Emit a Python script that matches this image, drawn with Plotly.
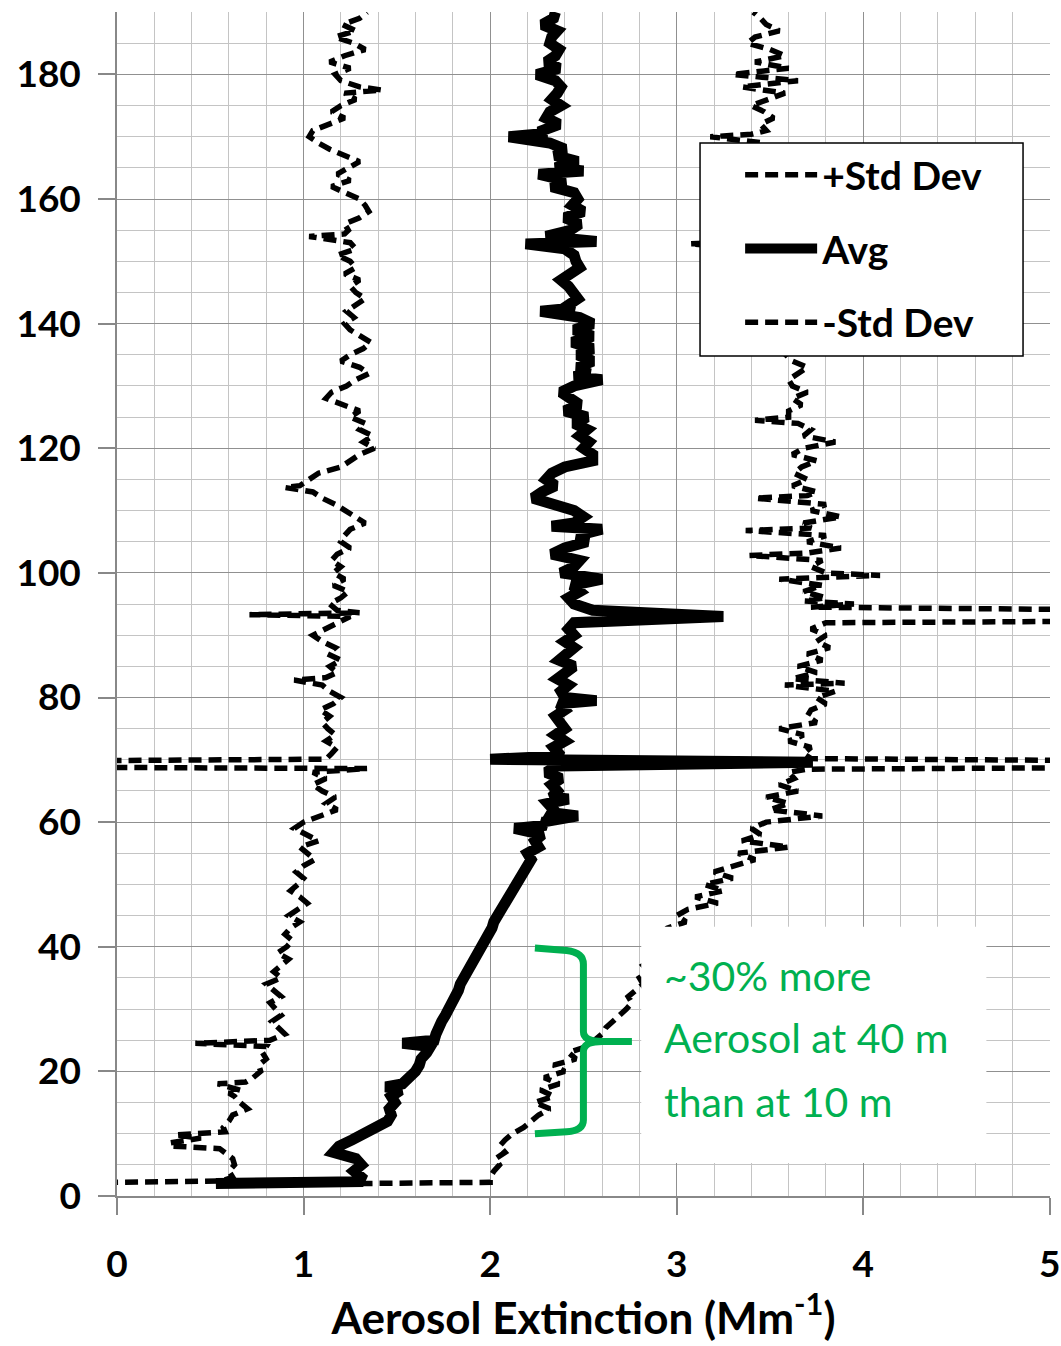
import plotly.graph_objects as go

# Vertical profiles of aerosol extinction: (altitude m, extinction Mm^-1)
PLUS_STD = [
    (2.0, 1.30), (2.2, 2.00), (3, 2.00), (4, 2.02), (5, 2.05), (6, 2.03), (7, 2.08), (8, 2.05),
    (9, 2.08), (10, 2.12), (11, 2.18), (12, 2.22), (13, 2.26), (14, 2.32), (15, 2.24), (16, 2.34),
    (17, 2.27), (18, 2.37), (19, 2.29), (20, 2.40), (21, 2.34), (22, 2.46), (23, 2.42), (24, 2.52),
    (25, 2.56), (26, 2.60), (27, 2.62), (28, 2.66), (29, 2.70), (30, 2.73), (31, 2.76), (32, 2.74),
    (33, 2.78), (34, 2.82), (35, 2.80), (36, 2.85), (37, 2.82), (38, 2.88), (39, 2.85), (40, 2.90),
    (41, 2.88), (42, 2.92), (43, 2.95), (44, 3.05), (45, 3.00), (46, 3.06), (47, 3.22), (48, 3.10),
    (49, 3.25), (50, 3.15), (51, 3.30), (52, 3.20), (53, 3.30), (54, 3.42), (55, 3.33), (56, 3.60),
    (57, 3.35), (58, 3.45), (59, 3.40), (60, 3.48), (61, 3.78), (62, 3.50), (63, 3.60), (64, 3.48),
    (65, 3.65), (66, 3.55), (67, 3.63), (68, 3.60), (68.5, 3.70), (68.8, 5.6), (69.8, 5.6), (70.2, 3.72),
    (71, 3.68), (72, 3.72), (73, 3.60), (74, 3.68), (75, 3.55), (76, 3.75), (77, 3.70), (78, 3.72),
    (79, 3.80), (80, 3.75), (81, 3.85), (82, 3.58), (82.3, 3.90), (83, 3.62), (84, 3.75), (85, 3.65),
    (86, 3.78), (87, 3.70), (88, 3.82), (89, 3.75), (90, 3.80), (91, 3.72), (92, 3.80), (92.3, 5.6),
    (94.0, 5.6), (94.5, 3.72), (95, 3.95), (95.5, 3.68), (96, 3.80), (97, 3.68), (98, 3.78), (99, 3.55),
    (99.6, 4.09), (100, 3.80), (101, 3.72), (102, 3.78), (102.8, 3.39), (103.2, 3.70), (104, 3.88),
    (105, 3.70), (106, 3.80), (106.8, 3.37), (107.2, 3.72), (108, 3.68), (109, 3.88), (110, 3.72),
    (111, 3.80), (112, 3.42), (112.4, 3.70), (113, 3.75), (114, 3.62), (115, 3.70), (116, 3.63),
    (117, 3.67), (118, 3.75), (119, 3.62), (120, 3.68), (121, 3.85), (122, 3.68), (123, 3.72),
    (124, 3.65), (124.5, 3.42), (125, 3.60), (126, 3.60), (127, 3.67), (128, 3.62), (129, 3.70),
    (130, 3.62), (131, 3.60), (132, 3.65), (133, 3.70), (134, 3.62), (135, 3.58), (136, 3.55),
    (137, 3.60), (138, 3.52), (139, 3.58), (140, 3.55), (141, 3.50), (142, 3.56), (143, 3.52),
    (144, 3.55), (145, 3.48), (146, 3.52), (147, 3.50), (148, 3.55), (149, 3.48), (150, 3.52),
    (151, 3.50), (152, 3.45), (152.8, 3.07), (153.3, 3.48), (154, 3.50), (155, 3.45), (156, 3.50),
    (157, 3.48), (158, 3.52), (159, 3.45), (160, 3.50), (161, 3.46), (162, 3.50), (163, 3.44),
    (164, 3.48), (165, 3.45), (166, 3.50), (167, 3.46), (168, 3.50), (169, 3.47), (170, 3.18),
    (170.4, 3.40), (171, 3.48), (172, 3.45), (173, 3.52), (174, 3.47), (175, 3.40), (176, 3.50),
    (177, 3.58), (178, 3.35), (179, 3.65), (180, 3.30), (181, 3.60), (182, 3.42), (183, 3.58),
    (184, 3.50), (185, 3.38), (186, 3.42), (187, 3.55), (188, 3.48), (189, 3.45), (190, 3.41),
]

AVERAGE = [
    (2.0, 0.53), (2.3, 1.30), (3, 1.31), (4, 1.27), (5, 1.31), (6, 1.28), (7, 1.16), (8, 1.19),
    (9, 1.26), (10, 1.32), (11, 1.40), (12, 1.45), (13, 1.47), (14, 1.46), (15, 1.49), (16, 1.47),
    (17, 1.52), (17.5, 1.44), (18, 1.53), (19, 1.57), (20, 1.60), (21, 1.62), (22, 1.63), (23, 1.66),
    (24, 1.68), (24.5, 1.53), (25, 1.70), (26, 1.71), (27, 1.72), (28, 1.74), (29, 1.76), (30, 1.78),
    (31, 1.79), (32, 1.81), (33, 1.83), (34, 1.84), (35, 1.86), (36, 1.87), (37, 1.90), (38, 1.91),
    (39, 1.93), (40, 1.96), (41, 1.97), (42, 1.99), (43, 2.01), (44, 2.02), (45, 2.04), (46, 2.06),
    (47, 2.07), (48, 2.10), (49, 2.11), (50, 2.13), (51, 2.15), (52, 2.18), (53, 2.19), (54, 2.22),
    (55, 2.20), (56, 2.26), (57, 2.24), (58, 2.28), (59, 2.13), (59.5, 2.30), (60, 2.28), (61, 2.47),
    (61.5, 2.33), (62, 2.34), (63, 2.31), (63.7, 2.42), (64, 2.33), (65, 2.36), (66, 2.33), (67, 2.38),
    (68, 2.30), (69, 2.36), (69.6, 3.73), (70.1, 2.00), (70.6, 2.38), (71, 2.37), (72, 2.34),
    (73, 2.40), (74, 2.35), (75, 2.40), (76, 2.38), (77, 2.35), (78, 2.40), (79, 2.37), (79.5, 2.57),
    (80, 2.40), (81, 2.38), (82, 2.42), (83, 2.36), (84, 2.40), (85, 2.45), (86, 2.37), (87, 2.42),
    (88, 2.45), (89, 2.40), (90, 2.45), (91, 2.42), (92, 2.45), (93, 3.25), (94, 2.55), (95, 2.45),
    (96, 2.42), (97, 2.48), (98, 2.44), (99, 2.60), (99.5, 2.45), (100, 2.38), (101, 2.45),
    (102, 2.48), (103, 2.33), (104, 2.40), (105, 2.52), (106, 2.47), (107, 2.60), (107.5, 2.33),
    (108, 2.45), (109, 2.50), (110, 2.45), (111, 2.35), (112, 2.23), (113, 2.28), (114, 2.35),
    (115, 2.30), (116, 2.33), (117, 2.40), (118, 2.55), (119, 2.55), (120, 2.50), (121, 2.53),
    (122, 2.48), (123, 2.52), (124, 2.45), (125, 2.52), (126, 2.40), (127, 2.48), (128, 2.42),
    (129, 2.38), (130, 2.45), (131, 2.60), (131.5, 2.45), (132, 2.53), (133, 2.47), (134, 2.55),
    (135, 2.47), (136, 2.55), (137, 2.44), (138, 2.55), (139, 2.45), (140, 2.55), (141, 2.48),
    (142, 2.27), (142.5, 2.45), (143, 2.42), (144, 2.47), (145, 2.45), (146, 2.42), (147, 2.38),
    (148, 2.42), (149, 2.48), (150, 2.46), (151, 2.45), (152, 2.40), (152.8, 2.19), (153.2, 2.57),
    (154, 2.30), (155, 2.43), (156, 2.48), (157, 2.40), (158, 2.50), (159, 2.44), (160, 2.47),
    (161, 2.45), (162, 2.33), (163, 2.40), (164, 2.26), (164.5, 2.50), (165, 2.35), (166, 2.47),
    (167, 2.35), (168, 2.40), (169, 2.32), (170, 2.10), (170.5, 2.28), (171, 2.28), (172, 2.37),
    (173, 2.30), (174, 2.32), (175, 2.38), (176, 2.33), (177, 2.36), (178, 2.38), (179, 2.35),
    (180, 2.25), (181, 2.37), (182, 2.30), (183, 2.35), (184, 2.37), (185, 2.32), (186, 2.33),
    (187, 2.36), (188, 2.28), (189, 2.34), (190, 2.35),
]

MINUS_STD = [
    (2.0, -0.6), (2.4, 0.56), (3, 0.62), (4, 0.60), (5, 0.63), (6, 0.62), (7.6, 0.55), (8, 0.30),
    (8.5, 0.28), (9.3, 0.45), (9.8, 0.31), (10.3, 0.58), (11, 0.57), (12, 0.60), (13, 0.62),
    (14, 0.70), (15, 0.66), (16, 0.63), (16.5, 0.60), (17, 0.66), (18, 0.54), (18.3, 0.69),
    (19, 0.73), (20, 0.77), (21, 0.76), (22, 0.80), (23, 0.78), (24, 0.80), (24.5, 0.42), (25, 0.82),
    (26, 0.90), (27, 0.86), (28, 0.83), (29, 0.88), (30, 0.85), (31, 0.82), (32, 0.88), (33, 0.84),
    (34, 0.80), (35, 0.88), (36, 0.84), (37, 0.88), (38, 0.92), (39, 0.86), (40, 0.91), (41, 0.94),
    (42, 0.90), (43, 0.93), (44, 0.98), (45, 0.92), (46, 0.97), (47, 1.02), (48, 0.98), (49, 0.93),
    (50, 0.97), (51, 1.00), (52, 0.96), (53, 1.00), (54, 1.06), (55, 1.02), (56, 0.98), (57, 1.08),
    (58, 1.02), (59, 0.95), (60, 1.00), (61, 1.10), (62, 1.18), (63, 1.12), (64, 1.17), (65, 1.10),
    (66, 1.05), (67, 1.12), (68, 1.05), (68.6, 1.34), (68.9, -1.0), (69.7, -1.0), (70.1, 1.12),
    (71, 1.15), (72, 1.18), (73, 1.12), (74, 1.17), (75, 1.13), (76, 1.10), (77, 1.14), (78, 1.09),
    (79, 1.16), (80, 1.20), (81, 1.14), (82, 1.10), (82.8, 0.95), (83.2, 1.12), (84, 1.18),
    (85, 1.14), (86, 1.20), (87, 1.13), (88, 1.17), (89, 1.10), (90, 1.05), (91, 1.12), (92, 1.18),
    (93, 1.25), (93.3, 0.71), (93.6, 1.30), (94, 1.18), (95, 1.14), (96, 1.20), (97, 1.24),
    (98, 1.16), (99, 1.22), (100, 1.16), (101, 1.20), (102, 1.15), (103, 1.18), (104, 1.25),
    (105, 1.20), (106, 1.22), (107, 1.25), (108, 1.33), (109, 1.28), (110, 1.23), (111, 1.17),
    (112, 1.10), (113, 1.05), (113.7, 0.90), (114, 0.98), (115, 1.03), (116, 1.08), (117, 1.20),
    (118, 1.25), (119, 1.30), (120, 1.38), (121, 1.32), (122, 1.37), (123, 1.30), (124, 1.33),
    (125, 1.25), (126, 1.30), (127, 1.20), (128, 1.12), (129, 1.15), (130, 1.23), (131, 1.28),
    (132, 1.35), (133, 1.30), (134, 1.20), (135, 1.25), (136, 1.32), (137, 1.36), (138, 1.30),
    (139, 1.25), (140, 1.22), (141, 1.27), (142, 1.23), (143, 1.28), (144, 1.33), (145, 1.28),
    (146, 1.25), (147, 1.30), (148, 1.22), (149, 1.28), (150, 1.25), (151, 1.18), (152, 1.28),
    (153, 1.25), (154, 1.03), (154.4, 1.22), (155, 1.24), (156, 1.22), (157, 1.30), (158, 1.35),
    (159, 1.33), (160, 1.30), (161, 1.23), (162, 1.15), (163, 1.25), (164, 1.18), (165, 1.24),
    (166, 1.30), (167, 1.22), (168, 1.14), (169, 1.08), (170, 1.03), (171, 1.05), (172, 1.13),
    (173, 1.22), (174, 1.15), (175, 1.20), (176, 1.28), (177, 1.22), (177.5, 1.42), (178, 1.30),
    (179, 1.20), (180, 1.17), (181, 1.25), (182, 1.14), (183, 1.22), (184, 1.33), (185, 1.27),
    (186, 1.17), (187, 1.28), (188, 1.21), (189, 1.30), (190, 1.34),
]

X_TICKS = [0, 1, 2, 3, 4, 5]
Y_TICKS = [0, 20, 40, 60, 80, 100, 120, 140, 160, 180]

# note lines with the altitude each one is centred on
NOTE_LINES = [("~30% more", 35.4), ("Aerosol at 40 m", 25.5), ("than at 10 m", 15.1)]
BRACE_LOW, BRACE_HIGH = 10.0, 39.8   # altitudes compared in the note

FONT = "Lato, Roboto, 'Noto Sans', sans-serif"
GREEN = "#00B050"


def split(profile):
    alts = [a for a, _ in profile]
    vals = [v for _, v in profile]
    return alts, vals


fig = go.Figure()

series = [
    ("+Std Dev", PLUS_STD, dict(color="black", width=5.5, dash="13px,7px")),
    ("Avg", AVERAGE, dict(color="black", width=11)),
    ("-Std Dev", MINUS_STD, dict(color="black", width=5.5, dash="13px,7px")),
]
for name, profile, line in series:
    alts, vals = split(profile)
    fig.add_trace(go.Scatter(
        x=vals, y=alts, mode="lines", name=name, line=line,
        legendgroup=name, hoverinfo="skip",
    ))

# white panel behind the note, then the curly brace spanning 10 m to 40 m
fig.add_shape(type="rect", xref="x", yref="y", x0=2.81, x1=4.66, y0=5.3, y1=43.2,
              fillcolor="white", line=dict(width=0), layer="above")

xa, xs, xt = 2.24, 2.50, 2.76
ym = (BRACE_LOW + BRACE_HIGH) / 2 - 0.1
brace = (
    f"M {xa},{BRACE_HIGH} L {xs - 0.09},{BRACE_HIGH - 0.4} "
    f"Q {xs},{BRACE_HIGH - 0.7} {xs},{BRACE_HIGH - 2.6} "
    f"L {xs},{ym + 1.6} Q {xs},{ym} {xs + 0.1},{ym} L {xt},{ym} "
    f"M {xs + 0.1},{ym} Q {xs},{ym} {xs},{ym - 1.6} "
    f"L {xs},{BRACE_LOW + 2.2} Q {xs},{BRACE_LOW + 0.5} {xs - 0.09},{BRACE_LOW + 0.3} "
    f"L {xa},{BRACE_LOW}"
)
fig.add_shape(type="path", xref="x", yref="y", path=brace,
              line=dict(color=GREEN, width=7), layer="above")

for text, alt in NOTE_LINES:
    fig.add_annotation(
        x=2.92, y=alt, xref="x", yref="y", xanchor="left", yanchor="middle",
        text=text, showarrow=False,
        font=dict(family=FONT, size=41, color=GREEN),
    )

# legend frame (white, covers the curves beneath it)
fig.add_shape(type="rect", xref="paper", yref="paper",
              x0=0.6249, x1=0.9711, y0=0.7095, y1=0.8894,
              fillcolor="white", line=dict(color="black", width=1.5), layer="above")

axis_common = dict(
    showline=True, linecolor="#888888", linewidth=1.5,
    ticks="outside", ticklen=17, tickwidth=1.5, tickcolor="#888888",
    showgrid=True, gridcolor="#909090", gridwidth=1.3,
    zeroline=False,
    tickfont=dict(family=FONT, size=37, color="black", weight="bold"),
)

fig.update_xaxes(
    range=[0, 5.001], tickvals=X_TICKS, ticklabelstandoff=18, ticklabeloverflow="allow",
    minor=dict(dtick=0.2, tick0=0, showgrid=True, gridcolor="#c4c4c4", gridwidth=1.2, ticks=""),
    title=dict(text="Aerosol Extinction (Mm<sup>-1</sup>)", standoff=10,
               font=dict(family=FONT, size=44, color="black", weight="bold")),
    **axis_common,
)
fig.update_yaxes(
    range=[0, 190.02], tickvals=Y_TICKS, ticklabelstandoff=10,
    minor=dict(dtick=5, tick0=0, showgrid=True, gridcolor="#c4c4c4", gridwidth=1.2, ticks=""),
    **axis_common,
)

fig.update_layout(
    width=1061, height=1346,
    margin=dict(l=117, r=11, t=12, b=150, autoexpand=False),
    plot_bgcolor="white", paper_bgcolor="white",
    font=dict(family=FONT, color="black"),
    showlegend=True,
    legend=dict(
        x=0.625, y=0.8894, xanchor="left", yanchor="top",
        bgcolor="rgba(0,0,0,0)", borderwidth=0,
        font=dict(family=FONT, size=39, color="black", weight="bold"),
        itemwidth=72, tracegroupgap=20, indentation=40,
    ),
)

fig.write_html("out.html")
